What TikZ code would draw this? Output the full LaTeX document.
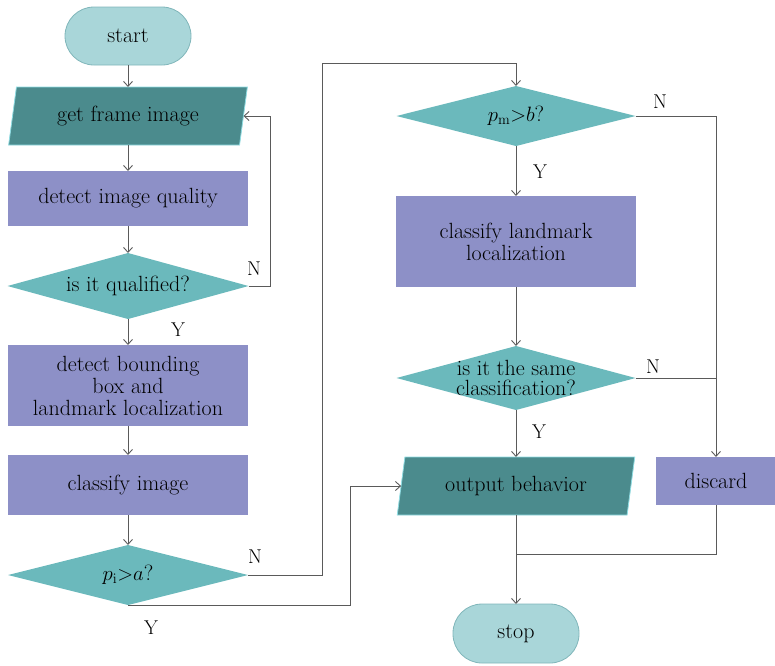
\documentclass[tikz,border=0pt]{standalone}
\usetikzlibrary{shapes.geometric,arrows.meta}
\definecolor{pillfill}{HTML}{A9D6D9}
\definecolor{pilldraw}{HTML}{80B6BA}
\definecolor{iofill}{HTML}{4B8B8D}
\definecolor{iodraw}{HTML}{8FDCE2}
\definecolor{procfill}{HTML}{8D90C7}
\definecolor{decfill}{HTML}{6BB9BC}
\definecolor{linec}{HTML}{5A5A5A}
\tikzset{
  base/.style={inner sep=0pt, outer sep=0pt, font=\fontsize{22}{22}\selectfont, align=center},
  pill/.style={base, rectangle, rounded corners=29pt, fill=pillfill, draw=pilldraw, line width=0.8pt},
  iobox/.style={base, trapezium, trapezium left angle=76, trapezium right angle=104, trapezium stretches=true, fill=iofill, draw=iodraw, line width=0.8pt},
  procbox/.style={base, rectangle, fill=procfill},
  decbox/.style={base, diamond, fill=decfill},
  txt/.style={base},
  yn/.style={base, font=\fontsize{20}{21}\selectfont},
  arr/.style={draw=linec, line width=0.9pt, -{Straight Barb[length=5pt,width=9pt]}},
  ln/.style={draw=linec, line width=0.9pt}
}
\begin{document}
\begin{tikzpicture}[x=1pt,y=-1pt]
\useasboundingbox (0,0) rectangle (775,665);
% left column
\node[pill, minimum width=126pt, minimum height=58pt] (start) at (128,36) {start};
\node[iobox, minimum width=239pt, minimum height=58pt] (getframe) at (128,116) {get frame image};
\node[procbox, minimum width=240pt, minimum height=55pt] (quality) at (128,198.5) {detect image quality};
\node[decbox, minimum width=241pt, minimum height=66pt] (qual) at (128,286) {};
\node[txt] (qualt) at (qual) {is it qualified?};
\node[procbox, minimum width=240pt, minimum height=81pt] (bbox) at (128,385.5) {detect bounding\\box and\\landmark localization};
\node[procbox, minimum width=240pt, minimum height=60pt] (clsimg) at (128,485) {classify image};
\node[decbox, minimum width=240pt, minimum height=60pt] (pi) at (128,575) {};
\node[txt] (pit) at (pi) {$p_{\mathrm{i}}{>}a$?};
% right column
\node[decbox, minimum width=239pt, minimum height=60pt] (pm) at (516,116) {};
\node[txt] (pmt) at (pm) {$p_{\mathrm{m}}{>}b$?};
\node[procbox, minimum width=240pt, minimum height=91pt] (clslm) at (516,241.5) {classify landmark\\localization};
\node[decbox, minimum width=239pt, minimum height=64pt] (same) at (516,378) {};
\node[txt, font=\fontsize{22}{20}\selectfont] (samet) at (same) {is it the same\\classification?};
\node[iobox, minimum width=238pt, minimum height=58pt] (output) at (516,486) {output behavior};
\node[procbox, minimum width=120pt, minimum height=48pt] (discard) at (716,481) {discard};
\node[pill, minimum width=126pt, minimum height=59pt] (stop) at (516,633.5) {stop};
% helper coordinates
\coordinate (c1) at (322,63);
\coordinate (c2) at (350,486);
\coordinate (c3) at (516,554);
\coordinate (c4) at (716,378);
% connectors
\draw[arr] (start) -- (getframe);
\draw[arr] (getframe) -- (quality);
\draw[arr] (quality) -- (qual);
\draw[arr] (qual) -- (bbox);
\draw[arr] (qual.east) -- ++(22,0) |- (getframe.right side);
\draw[arr] (bbox) -- (clsimg);
\draw[arr] (clsimg) -- (pi);
\draw[arr] (pi.east) -| (c1) -| (pm.north);
\draw[arr] (pi.south) -| (c2) -- (output.left side);
\draw[arr] (pm) -- (clslm);
\draw[arr] (pm.east) -| (discard.north);
\draw[arr] (clslm) -- (same);
\draw[ln] (same.east) -- (c4);
\draw[arr] (same) -- (output);
\draw[arr] (output) -- (stop);
\draw[ln] (discard.south) |- (c3);
% labels
\node[yn] (n1) at (254,269) {N};
\node[yn] (y1) at (178,330) {Y};
\node[yn] (n2) at (255,557) {N};
\node[yn] (y2) at (151,628) {Y};
\node[yn] (n3) at (660,102) {N};
\node[yn] (y3) at (540,172) {Y};
\node[yn] (n4) at (653,367) {N};
\node[yn] (y4) at (539,432) {Y};
\end{tikzpicture}
\end{document}
